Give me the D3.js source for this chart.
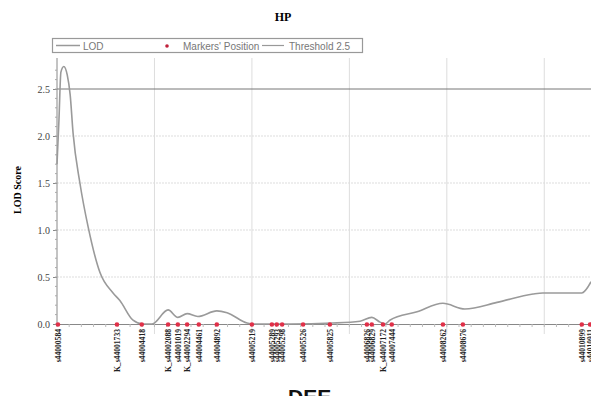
<!DOCTYPE html>
<html><head><meta charset="utf-8">
<script src="https://cdn.jsdelivr.net/npm/d3@7"></script>
<style>body{margin:0;background:#fff;}svg{display:block;}</style>
</head><body>
<script>
const title = "HP";
const xTitle = "DEE";
const yTitle = "LOD Score";
const threshold = 2.5;
const yTicks = [0.0, 0.5, 1.0, 1.5, 2.0, 2.5];
const xGrid = [20, 40, 60, 80, 100];
const lodPos = [0,0.4,0.8,1.4,2.1,2.7,3.3,4.7,6.4,8.8,11.5,12.9,15.6,17.6,19.5,22.8,24.8,26.7,28.9,32.8,34.9,39.0,40.2,47.8,56.6,62.2,64.6,66.3,67.3,68.3,73.9,79.2,83.7,90.3,97.7,99.7,107.7,109.6];
const lodVal = [1.70,2.17,2.68,2.74,2.65,2.44,2.03,1.50,1.03,0.55,0.33,0.25,0.04,0.0,0.0,0.15,0.07,0.11,0.08,0.14,0.12,0.01,0.0,0.0,0.01,0.03,0.07,0.02,0.0,0.04,0.13,0.22,0.16,0.23,0.32,0.33,0.33,0.45];
const markerNames = ["s44000584","K_s44001733","s44004418","K_s44002088","s44001019","K_s44002294","s44004461","s44004892","s44005219","s44005289","s44005293","s44005298","s44005526","s44005825","s44006826","s44006829","K_s44007172","s44007444","s44008262","s44008676","s44010899","s44010911"];
const markerPos = [0.2,12.3,17.4,22.8,24.8,26.7,29.1,32.8,40.0,44.1,45.1,46.2,50.5,56.0,63.6,64.6,66.9,68.7,79.2,83.3,107.7,109.4];

const W = 591, H = 396;
const svg = d3.select("body").append("svg").attr("width", W).attr("height", H);
const x = d3.scaleLinear().domain([0, 110]).range([57, 593]);
const y = d3.scaleLinear().domain([0, 2.5]).range([324, 89]);
const plotTop = 58;

// title
svg.append("text").attr("x", 283).attr("y", 21).attr("text-anchor", "middle")
  .attr("font-family", "Liberation Serif, Times New Roman, serif").attr("font-weight", "bold")
  .attr("font-size", 12).text(title);

// legend
const lg = svg.append("g");
lg.append("rect").attr("x", 52.5).attr("y", 38.5).attr("width", 310).attr("height", 14)
  .attr("fill", "#fff").attr("stroke", "#999").attr("stroke-width", 1.2);
lg.append("line").attr("x1", 56).attr("x2", 80).attr("y1", 45.5).attr("y2", 45.5).attr("stroke", "#999").attr("stroke-width", 1.5);
lg.append("circle").attr("cx", 167).attr("cy", 46).attr("r", 1.8).attr("fill", "#c0203a");
lg.append("line").attr("x1", 262).attr("x2", 284).attr("y1", 45.5).attr("y2", 45.5).attr("stroke", "#999").attr("stroke-width", 1.2);
const lfont = "Liberation Sans Narrow, Arial Narrow, Liberation Sans, sans-serif";
[["LOD", 83], ["Markers' Position", 183], ["Threshold 2.5", 289]].forEach(([t, xx]) => {
  lg.append("text").attr("x", xx).attr("y", 49.5).attr("font-family", lfont).attr("font-size", 10)
    .attr("fill", "#777").text(t);
});

// horizontal grid
svg.append("g").selectAll("line").data(yTicks.filter(d => d > 0 && d < 2.5)).join("line")
  .attr("x1", 57).attr("x2", W).attr("y1", d => y(d)).attr("y2", d => y(d))
  .attr("stroke", "#ddd").attr("stroke-width", 1).attr("stroke-dasharray", "2,1");
// vertical grid
svg.append("g").selectAll("line").data(xGrid).join("line")
  .attr("x1", d => x(d)).attr("x2", d => x(d)).attr("y1", plotTop).attr("y2", 334)
  .attr("stroke", "#ddd").attr("stroke-width", 1);

// threshold
svg.append("line").attr("x1", 57).attr("x2", W).attr("y1", y(threshold)).attr("y2", y(threshold))
  .attr("stroke", "#777").attr("stroke-width", 1);

// y axis
const ya = svg.append("g").attr("transform", "translate(57,0)")
  .call(d3.axisLeft(y).tickValues(yTicks).tickFormat(d3.format(".1f")).tickSize(4));
ya.select(".domain").attr("stroke", "#888");
ya.selectAll(".tick line").attr("stroke", "#888");
ya.selectAll("text").attr("font-family", "Liberation Serif, Times New Roman, serif").attr("font-size", 10).attr("fill", "#444");
ya.select(".domain").attr("d", `M0,${plotTop}V324`);
const minorY = d3.range(0, 28).map(i => i / 10);
svg.append("g").selectAll("line").data(minorY).join("line")
  .attr("x1", 55).attr("x2", 57).attr("y1", d => y(d)).attr("y2", d => y(d)).attr("stroke", "#aaa");

// y title
svg.append("text").attr("transform", "translate(21,190) rotate(-90)").attr("text-anchor", "middle")
  .attr("font-family", "Liberation Serif, Times New Roman, serif").attr("font-weight", "bold")
  .attr("font-size", 10).text(yTitle);

// x axis line
svg.append("line").attr("x1", 57).attr("x2", W).attr("y1", 324.5).attr("y2", 324.5).attr("stroke", "#888").attr("stroke-width", 1.2);
svg.append("g").selectAll("line").data(d3.range(0, 111, 2.5)).join("line")
  .attr("x1", d => x(d)).attr("x2", d => x(d)).attr("y1", 324).attr("y2", 327).attr("stroke", "#bbb");

// LOD curve
const pts = lodPos.map((p, i) => [p, lodVal[i]]);
svg.append("path").datum(pts).attr("fill", "none").attr("stroke", "#9a9a9a").attr("stroke-width", 1.6)
  .attr("d", d3.line().x(d => x(d[0])).y(d => y(d[1])).curve(d3.curveMonotoneX));

// markers
svg.append("g").selectAll("circle").data(markerPos).join("circle")
  .attr("cx", d => x(d)).attr("cy", 324.5).attr("r", 2.3).attr("fill", "#e03048");
svg.append("g").selectAll("text").data(markerNames).join("text")
  .attr("transform", (d, i) => `translate(${x(markerPos[i]) + 2.8},329) rotate(-90)`)
  .attr("text-anchor", "end").attr("font-family", "Liberation Serif, serif").attr("font-weight", "bold")
  .attr("font-size", 7.6).attr("fill", "#222").text(d => d);

// x title
svg.append("text").attr("x", 288).attr("y", 404).attr("font-family", "Liberation Sans, Arial, sans-serif")
  .attr("font-weight", "bold").attr("font-size", 21).attr("fill", "#111").text(xTitle);
</script>
</body></html>
